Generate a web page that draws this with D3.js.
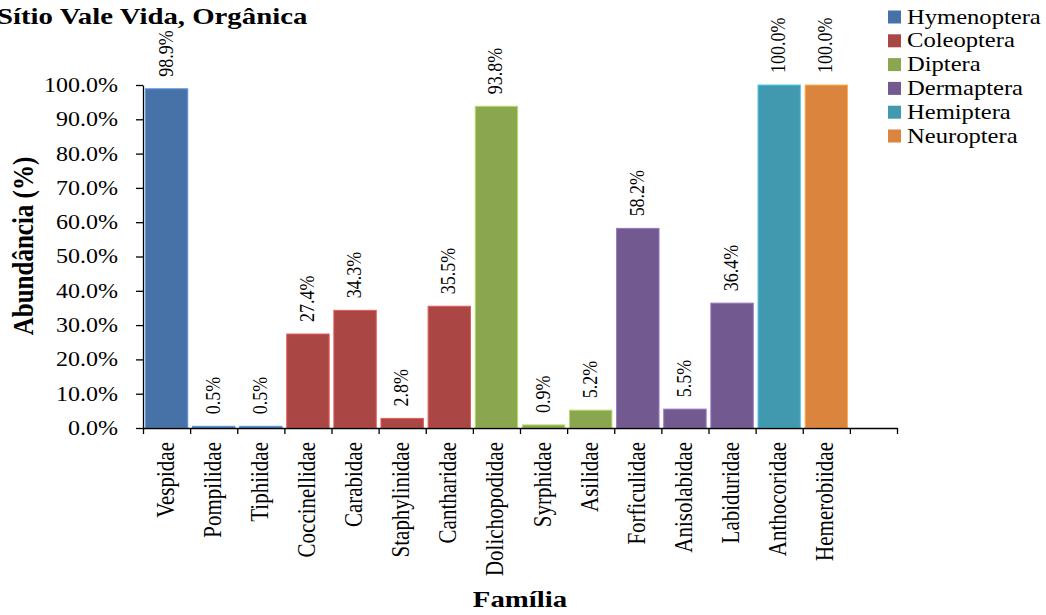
<!DOCTYPE html>
<html>
<head>
<meta charset="utf-8">
<script src="https://cdn.jsdelivr.net/npm/d3@7"></script>
<style>
  html, body { margin: 0; padding: 0; background: #fff; }
  svg { display: block; font-family: "Liberation Serif", "Times New Roman", serif; }
</style>
</head>
<body>
<svg id="chart" width="1046" height="615"></svg>
<script>
// Families sampled at the organic site and their relative abundance (%)
const families = ["Vespidae", "Pompilidae", "Tiphiidae", "Coccinellidae", "Carabidae",
  "Staphylinidae", "Cantharidae", "Dolichopodidae", "Syrphidae", "Asilidae",
  "Forficulidae", "Anisolabidae", "Labiduridae", "Anthocoridae", "Hemerobiidae"];
const abundance = [98.9, 0.5, 0.5, 27.4, 34.3, 2.8, 35.5, 93.8, 0.9, 5.2, 58.2, 5.5, 36.4, 100.0, 100.0];
const familyOrder = ["Hymenoptera", "Hymenoptera", "Hymenoptera", "Coleoptera", "Coleoptera",
  "Coleoptera", "Coleoptera", "Diptera", "Diptera", "Diptera",
  "Dermaptera", "Dermaptera", "Dermaptera", "Hemiptera", "Neuroptera"];
const orders = ["Hymenoptera", "Coleoptera", "Diptera", "Dermaptera", "Hemiptera", "Neuroptera"];
const orderColors = ["#4672A8", "#AA4644", "#8AA64E", "#72598F", "#4199B0", "#DB843D"];
const yTicks = [0, 10, 20, 30, 40, 50, 60, 70, 80, 90, 100];

// horizontal text stretch used throughout the figure
const SX = 1.2;

const svg = d3.select("#chart");
const plot = { left: 143, right: 897, top: 85, bottom: 428 };
const slots = families.length + 1; // one empty slot after the last family

const color = d3.scaleOrdinal().domain(orders).range(orderColors);
const y = d3.scaleLinear().domain([0, 100]).range([plot.bottom, plot.top]);
const slotScale = d3.scaleLinear().domain([0, slots]).range([plot.left, plot.right]);
const x = d3.scaleBand()
  .domain(d3.range(slots))
  .range([plot.left, plot.right])
  .paddingInner(0.1)
  .paddingOuter(0.05);

const data = families.map((f, i) => ({ family: f, value: abundance[i], order: familyOrder[i], i }));

// bars
svg.append("g").selectAll("rect")
  .data(data)
  .enter().append("rect")
  .attr("x", d => x(d.i))
  .attr("width", x.bandwidth())
  .attr("y", d => y(d.value))
  .attr("height", d => y(0) - y(d.value))
  .attr("fill", d => color(d.order))
  .attr("stroke", d => d3.color(color(d.order)).brighter(0.8))
  .attr("stroke-width", 1);

// value labels above bars
svg.append("g").selectAll("text")
  .data(data)
  .enter().append("text")
  .attr("transform", d => `translate(${x(d.i) + x.bandwidth() / 2 + 6},${y(d.value) - 12}) scale(${SX},1) rotate(-90)`)
  .attr("text-anchor", "start")
  .attr("font-size", 18)
  .attr("fill", "#000")
  .text(d => d.value.toFixed(1) + "%");

// y axis
const yAxis = svg.append("g")
  .attr("transform", `translate(${plot.left},0)`)
  .call(d3.axisLeft(y).tickValues(yTicks).tickSize(7).tickSizeOuter(0).tickFormat(d => d.toFixed(1) + "%"));
yAxis.select(".domain").attr("stroke", "#000").attr("stroke-width", 1.3);
yAxis.selectAll(".tick line").attr("stroke", "#000").attr("stroke-width", 1.3);
yAxis.selectAll(".tick text")
  .attr("x", -25 / SX)
  .attr("transform", `scale(${SX},1)`)
  .attr("font-size", 20)
  .attr("font-family", "Liberation Serif")
  .attr("fill", "#000");

// x axis with ticks between categories
const xAxis = svg.append("g")
  .attr("transform", `translate(0,${plot.bottom})`)
  .call(d3.axisBottom(slotScale).tickValues(d3.range(slots + 1)).tickSize(6).tickSizeOuter(0).tickFormat(""));
xAxis.select(".domain").attr("stroke", "#000").attr("stroke-width", 1.3);
xAxis.selectAll(".tick line").attr("stroke", "#000").attr("stroke-width", 1.3);

// category labels
svg.append("g").selectAll("text")
  .data(data)
  .enter().append("text")
  .attr("transform", d => `translate(${x(d.i) + x.bandwidth() / 2 + 7},${plot.bottom + 14}) scale(${SX},1) rotate(-90)`)
  .attr("text-anchor", "end")
  .attr("font-size", 21)
  .attr("fill", "#000")
  .text(d => d.family);

// title
svg.append("text")
  .attr("transform", `translate(-3,24) scale(${SX},1)`)
  .attr("font-size", 24)
  .attr("font-weight", "bold")
  .text("Sítio Vale Vida, Orgânica");

// axis titles
svg.append("text")
  .attr("transform", `translate(33,246) scale(${SX},1) rotate(-90)`)
  .attr("text-anchor", "middle")
  .attr("font-size", 25)
  .attr("font-weight", "bold")
  .text("Abundância (%)");

svg.append("text")
  .attr("transform", `translate(520,607) scale(${SX},1)`)
  .attr("text-anchor", "middle")
  .attr("font-size", 24)
  .attr("font-weight", "bold")
  .text("Família");

// legend
const legend = svg.append("g").selectAll("g")
  .data(orders)
  .enter().append("g")
  .attr("transform", (d, i) => `translate(888,${17 + i * 23.8})`);
legend.append("rect")
  .attr("x", 0).attr("y", -6.5)
  .attr("width", 13).attr("height", 13)
  .attr("fill", d => color(d));
legend.append("text")
  .attr("transform", `translate(19,6.5) scale(${SX},1)`)
  .attr("font-size", 20.5)
  .text(d => d);
</script>
</body>
</html>
